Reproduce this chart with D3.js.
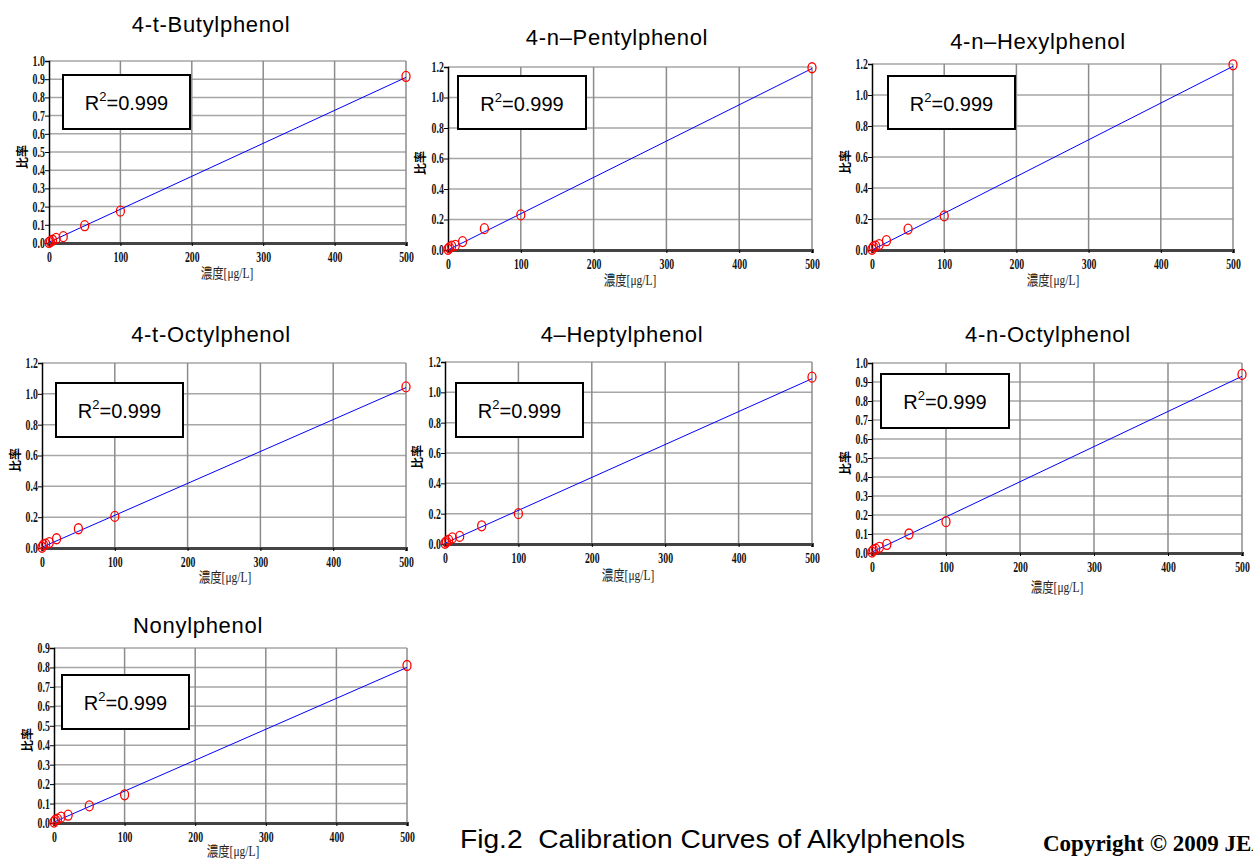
<!DOCTYPE html>
<html>
<head>
<meta charset="utf-8">
<script src="https://cdn.jsdelivr.net/npm/d3@7"></script>
<style>
  body { margin: 0; background: #fff; }
  svg { display: block; }
</style>
</head>
<body>
<svg id="chart" width="1253" height="859"></svg>
<script>
// compound names
var names = ['4-t-Butylphenol', '4-n\u2013Pentylphenol', '4-n\u2013Hexylphenol',
    '4-t-Octylphenol', '4\u2013Heptylphenol', '4-n-Octylphenol', 'Nonylphenol'];

// concentrations of the standards (ug/L)
var conc = [0, 2, 5, 10, 20, 50, 100, 500];

// area ratio
var ratioButyl = [0.003, 0.008, 0.015, 0.025, 0.035, 0.095, 0.175, 0.915];
var ratioPentyl = [0.005, 0.015, 0.025, 0.03, 0.055, 0.14, 0.23, 1.195];
var ratioHexyl = [0.005, 0.02, 0.025, 0.035, 0.06, 0.135, 0.22, 1.195];
var ratioTOctyl = [0.005, 0.02, 0.025, 0.035, 0.06, 0.125, 0.205, 1.045];
var ratioHeptyl = [0.005, 0.015, 0.025, 0.04, 0.05, 0.12, 0.20, 1.10];
var ratioNOctyl = [0.005, 0.015, 0.02, 0.03, 0.045, 0.10, 0.165, 0.94];
var ratioNonyl = [0.005, 0.015, 0.02, 0.03, 0.04, 0.088, 0.145, 0.81];
var ratios = [ratioButyl, ratioPentyl, ratioHexyl, ratioTOctyl, ratioHeptyl, ratioNOctyl, ratioNonyl];

// regression line ends (ratio at 0 and at 500 ug/L)
var fitAt0 = [0.004, 0.0, 0.0, 0.005, 0.005, 0.005, 0.005];
var fitAt500 = [0.91, 1.19, 1.185, 1.04, 1.09, 0.93, 0.80];

// y axis maximum and tick step
var yMax = [1.0, 1.2, 1.2, 1.2, 1.2, 1.0, 0.9];
var yStep = [0.1, 0.2, 0.2, 0.2, 0.2, 0.1, 0.1];
var xTicks = [0, 100, 200, 300, 400, 500];
var r2Text = '0.999';

// panel placement on the page
var layout = [
    { l: 49, r: 406, t: 61, b: 243, tx: 211, ty: 32, bx: 63, bw: 127, by: 75, bh: 54, lx: 227, ly: 273, yx: 22, yy: 157 },
    { l: 448, r: 812, t: 67, b: 250, tx: 617, ty: 45, bx: 458, bw: 128, by: 76, bh: 53, lx: 630, ly: 280, yx: 420, yy: 163 },
    { l: 872, r: 1233, t: 64, b: 250, tx: 1038, ty: 49, bx: 888, bw: 127, by: 76, bh: 53, lx: 1053, ly: 280, yx: 845, yy: 162 },
    { l: 42, r: 406, t: 363, b: 548, tx: 211, ty: 342, bx: 56, bw: 127, by: 383, bh: 54, lx: 225, ly: 577, yx: 15, yy: 460 },
    { l: 445, r: 812, t: 362, b: 544, tx: 622, ty: 342, bx: 456, bw: 127, by: 383, bh: 54, lx: 628, ly: 575, yx: 417, yy: 457 },
    { l: 872, r: 1242, t: 363, b: 553, tx: 1048, ty: 342, bx: 881, bw: 128, by: 374, bh: 54, lx: 1057, ly: 587, yx: 845, yy: 463 },
    { l: 54, r: 407, t: 648, b: 823, tx: 198, ty: 633, bx: 62, bw: 127, by: 675, bh: 54, lx: 233, ly: 851, yx: 27, yy: 740 }
];

var svg = d3.select('#chart');
var tickFont = '"Liberation Serif", "DejaVu Serif", serif';
var squeeze = 'scale(0.7,1)';

names.forEach(function(name, i) {
    var L = layout[i];
    var x = d3.scaleLinear().domain([0, 500]).range([L.l, L.r]);
    var y = d3.scaleLinear().domain([0, yMax[i]]).range([L.b, L.t]);
    var yTicks = d3.range(0, yMax[i] + yStep[i] / 2, yStep[i]);

    var g = svg.append('g').attr('class', 'panel');

    // grid
    g.append('g').selectAll('line.h')
        .data(yTicks.slice(1))
        .enter().append('line')
        .attr('x1', L.l).attr('x2', L.r)
        .attr('y1', d => y(d)).attr('y2', d => y(d))
        .attr('stroke', '#a6a6a6').attr('stroke-width', 1.5);
    g.append('g').selectAll('line.v')
        .data(xTicks.slice(1))
        .enter().append('line')
        .attr('x1', d => x(d)).attr('x2', d => x(d))
        .attr('y1', L.t).attr('y2', L.b)
        .attr('stroke', '#8c8c8c').attr('stroke-width', 1.5);

    // y axis
    var ya = g.append('g')
        .attr('transform', 'translate(' + L.l + ',0)')
        .call(d3.axisLeft(y).tickValues(yTicks).tickFormat(d3.format('.1f')).tickSize(4).tickPadding(2));
    ya.select('.domain').attr('stroke', '#000').attr('stroke-width', 1.5);
    ya.selectAll('.tick line').attr('stroke', '#000');
    ya.selectAll('text')
        .attr('font-family', tickFont).attr('font-weight', 'bold').attr('font-size', 14)
        .attr('fill', '#111').attr('transform', squeeze);

    // x axis
    var xa = g.append('g')
        .attr('transform', 'translate(0,' + L.b + ')')
        .call(d3.axisBottom(x).tickValues(xTicks).tickSize(3).tickPadding(6));
    xa.select('.domain').attr('stroke', '#444').attr('stroke-width', 3);
    xa.selectAll('.tick line').attr('stroke', '#000');
    xa.selectAll('text')
        .attr('font-family', tickFont).attr('font-weight', 'bold').attr('font-size', 14)
        .attr('fill', '#111').attr('transform', squeeze);

    // fit line
    g.append('line')
        .attr('x1', x(0)).attr('y1', y(fitAt0[i]))
        .attr('x2', x(500)).attr('y2', y(fitAt500[i]))
        .attr('stroke', '#0000ff').attr('stroke-width', 1);

    // points
    g.append('g').selectAll('ellipse')
        .data(conc.map((c, k) => [c, ratios[i][k]]))
        .enter().append('ellipse')
        .attr('cx', d => x(d[0])).attr('cy', d => y(d[1]))
        .attr('rx', 4).attr('ry', 5)
        .attr('fill', 'none').attr('stroke', '#ff0000').attr('stroke-width', 1.3);

    // R^2 box
    g.append('rect')
        .attr('x', L.bx).attr('y', L.by).attr('width', L.bw).attr('height', L.bh)
        .attr('fill', '#fff').attr('stroke', '#000').attr('stroke-width', 2);
    var rt = g.append('text')
        .attr('x', L.bx + L.bw / 2).attr('y', L.by + L.bh / 2 + 8)
        .attr('text-anchor', 'middle')
        .attr('font-family', '"Liberation Sans", Arial, sans-serif')
        .attr('font-size', 20).attr('fill', '#000');
    rt.append('tspan').text('R');
    rt.append('tspan').attr('font-size', 13).attr('dy', -9).text('2');
    rt.append('tspan').attr('dy', 9).text('=' + r2Text);

    // title
    g.append('text')
        .attr('x', L.tx).attr('y', L.ty)
        .attr('text-anchor', 'middle')
        .attr('font-family', '"Liberation Sans", Arial, sans-serif')
        .attr('font-size', 22).attr('letter-spacing', 0.7).attr('fill', '#000')
        .text(name);

    // axis labels
    g.append('text')
        .attr('transform', 'translate(' + L.lx + ',' + (L.ly + 5) + ') scale(0.82,1)')
        .attr('text-anchor', 'middle')
        .attr('font-family', '"Liberation Serif", "Noto Sans CJK JP", serif')
        .attr('font-size', 14).attr('fill', '#222')
        .text('濃度[\u03bcg/L]');
    g.append('text')
        .attr('transform', 'translate(' + (L.yx + 5) + ',' + L.yy + ') rotate(-90)')
        .attr('text-anchor', 'middle')
        .attr('font-family', '"Noto Sans CJK JP", sans-serif')
        .attr('font-weight', 'bold')
        .attr('font-size', 12).attr('fill', '#000')
        .text('比率');
});

// caption
svg.append('text')
    .attr('x', 460).attr('y', 848)
    .attr('font-family', '"Liberation Sans", Arial, sans-serif')
    .attr('font-size', 25).attr('fill', '#000')
    .attr('textLength', 505).attr('lengthAdjust', 'spacingAndGlyphs')
    .text('Fig.2\u00a0\u00a0Calibration Curves of Alkylphenols');

svg.append('text')
    .attr('x', 1043).attr('y', 851)
    .attr('font-family', '"Liberation Serif", "Times New Roman", serif')
    .attr('font-weight', 'bold')
    .attr('font-size', 23).attr('fill', '#000')
    .text('Copyright \u00a9 2009 JEA');
</script>
</body>
</html>
